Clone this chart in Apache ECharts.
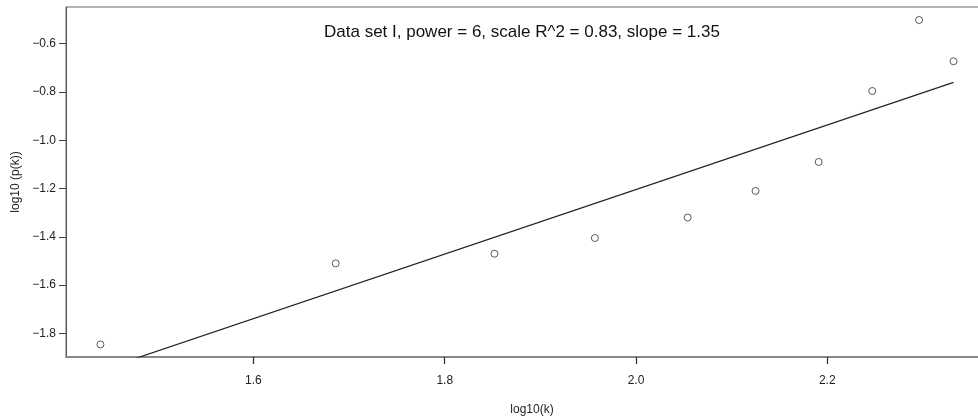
<!DOCTYPE html>
<html>
<head>
<meta charset="utf-8">
<script src="https://cdn.jsdelivr.net/npm/echarts@6/dist/echarts.min.js"></script>
<style>html,body{margin:0;padding:0;background:#fff}#c{width:978px;height:416px}</style>
</head>
<body>
<div id="c"></div>
<script>
const titleText = "Data set I, power = 6, scale R^2 = 0.83, slope = 1.35";
const xName = "log10(k)";
const yName = "log10 (p(k))";
const logK = [1.440, 1.686, 1.852, 1.957, 2.054, 2.125, 2.191, 2.247, 2.296, 2.332];
const logP = [-1.846, -1.51, -1.47, -1.405, -1.32, -1.21, -1.09, -0.796, -0.502, -0.673];
const fitX = [1.440, 2.332];
const fitY = [-1.953, -0.760];
const xTicks = [1.6, 1.8, 2.0, 2.2];
const yTicks = [-1.8, -1.6, -1.4, -1.2, -1.0, -0.8, -0.6];

const fmt = v => { const s = Number(v).toFixed(1); return s.replace('-', '\u2212'); };
const font = "'Liberation Sans', Arial, sans-serif";
const chart = echarts.init(document.getElementById('c'), null, {renderer: 'canvas'});
chart.setOption({
  backgroundColor: '#fff',
  animation: false,
  title: {
    text: titleText, left: 319, top: 19,
    textStyle: {fontFamily: font, fontSize: 17, fontWeight: 'normal', color: '#111'}
  },
  grid: {left: 66, top: 7, width: 932, height: 350, outerBoundsMode: 'none', containLabel: false,
         show: true, borderColor: '#666', borderWidth: 1, backgroundColor: 'transparent'},
  xAxis: {
    type: 'value', min: 1.404, max: 2.3785,
    name: xName, nameLocation: 'middle', nameGap: 47,
    nameTextStyle: {fontFamily: font, fontSize: 12, color: '#222'},
    splitLine: {show: false},
    axisLine: {show: true, onZero: false, lineStyle: {color: '#888', width: 2}},
    axisTick: {show: true, inside: false, length: 7, customValues: xTicks, lineStyle: {color: '#333', width: 1.3}},
    axisLabel: {customValues: xTicks, formatter: fmt, margin: 18, fontFamily: font, fontSize: 12, color: '#222'}
  },
  yAxis: {
    type: 'value', min: -1.898, max: -0.448,
    name: yName, nameLocation: 'middle', nameGap: 44, nameRotate: 90,
    nameTextStyle: {fontFamily: font, fontSize: 12, color: '#222'},
    splitLine: {show: false},
    axisLine: {show: true, onZero: false, lineStyle: {color: '#555', width: 1}},
    axisTick: {show: true, inside: false, length: 7, customValues: yTicks, lineStyle: {color: '#444', width: 1}},
    axisLabel: {customValues: yTicks, formatter: fmt, margin: 10, fontFamily: font, fontSize: 12, color: '#222'}
  },
  series: [
    {
      type: 'line', data: fitX.map((x, i) => [x, fitY[i]]),
      symbol: 'none', clip: true,
      lineStyle: {color: '#222', width: 1.2}
    },
    {
      type: 'scatter', data: logK.map((x, i) => [x, logP[i]]),
      symbol: 'circle', symbolSize: 7,
      itemStyle: {color: '#fff', borderColor: '#333', borderWidth: 1}
    }
  ]
});
</script>
</body>
</html>
